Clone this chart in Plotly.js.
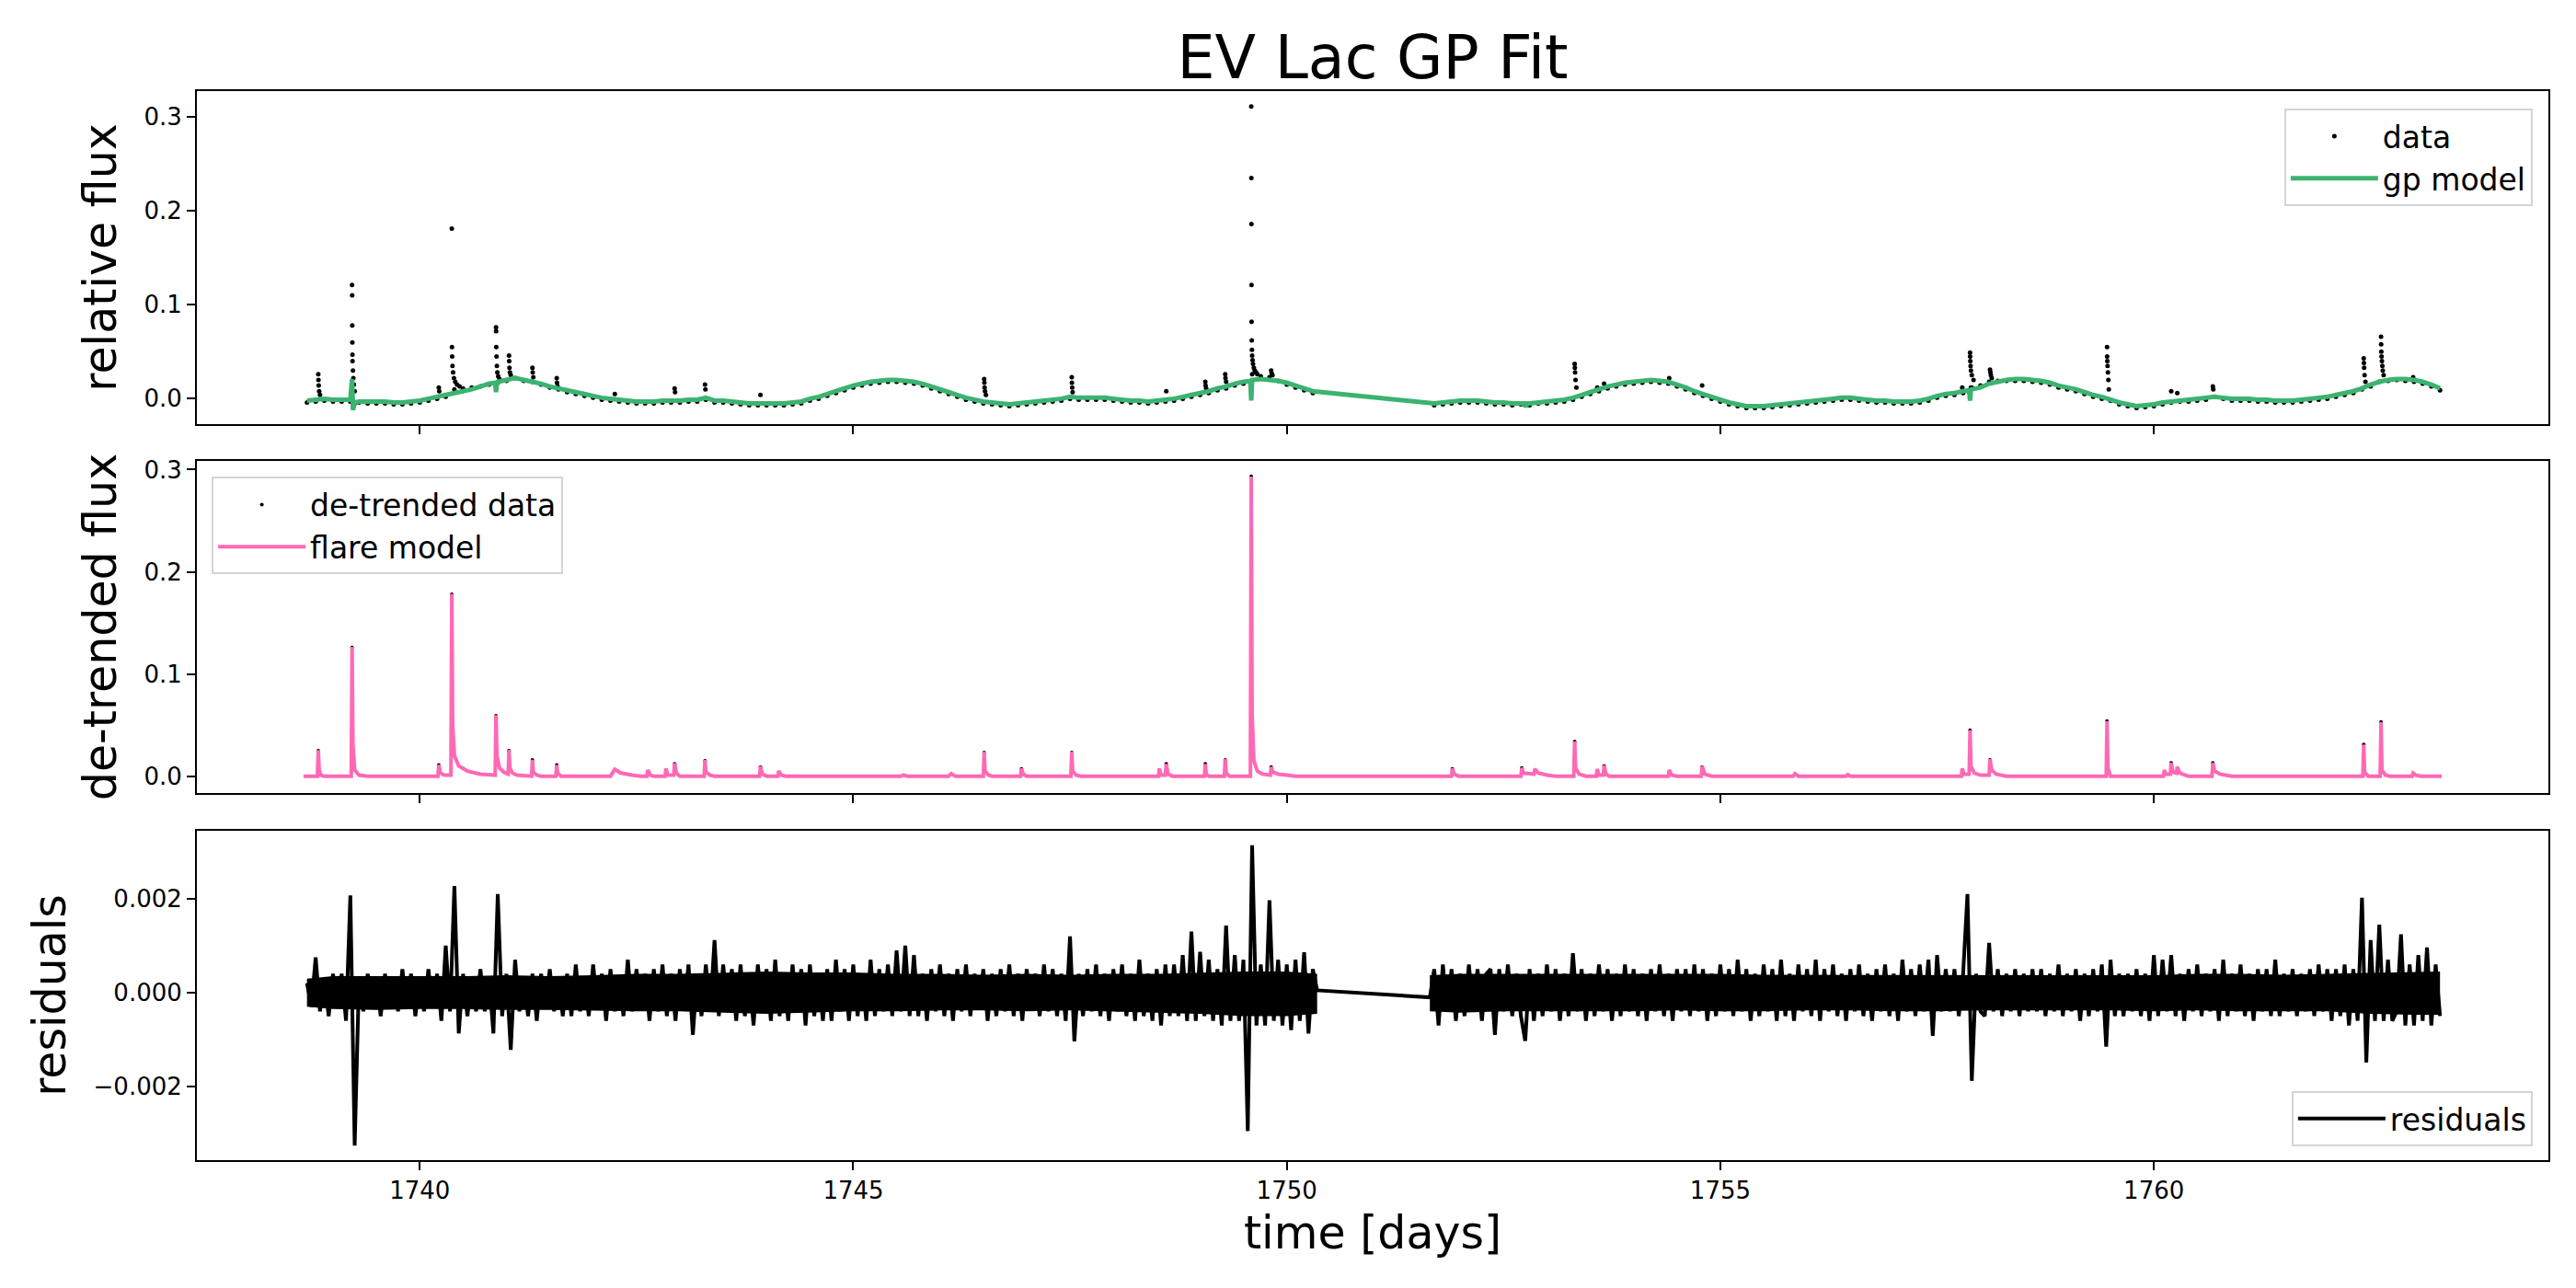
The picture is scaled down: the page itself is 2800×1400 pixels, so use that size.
<!DOCTYPE html>
<html>
<head>
<meta charset="utf-8">
<script src="https://cdn.plot.ly/plotly-3.0.1.min.js"></script>
<style>
  body { margin: 0; background: white; }
  #gpPlot { width: 2800px; height: 1400px; }
</style>
</head>
<body>
<div id="gpPlot"></div>
<script>
// time grid for the light curve and the gp model (days)
var tGrid = [
    1738.7, 1738.8, 1738.9, 1739.0, 1739.1, 1739.2, 1739.22, 1739.23, 1739.25, 1739.3, 1739.4, 1739.5, 1739.6,
    1739.7, 1739.8, 1739.9, 1740.0, 1740.1, 1740.2, 1740.3, 1740.4, 1740.5, 1740.6,
    1740.7, 1740.8, 1740.87, 1740.88, 1740.89, 1740.9, 1741.0, 1741.1, 1741.2, 1741.3, 1741.4, 1741.5, 1741.6,
    1741.7, 1741.8, 1741.9, 1742.0, 1742.1, 1742.2, 1742.3, 1742.4, 1742.5, 1742.6,
    1742.7, 1742.8, 1742.9, 1743.0, 1743.1, 1743.2, 1743.3, 1743.4, 1743.5, 1743.6,
    1743.7, 1743.8, 1743.9, 1744.0, 1744.1, 1744.2, 1744.3, 1744.4, 1744.5, 1744.6,
    1744.7, 1744.8, 1744.9, 1745.0, 1745.1, 1745.2, 1745.3, 1745.4, 1745.5, 1745.6,
    1745.7, 1745.8, 1745.9, 1746.0, 1746.1, 1746.2, 1746.3, 1746.4, 1746.5, 1746.6,
    1746.7, 1746.8, 1746.9, 1747.0, 1747.1, 1747.2, 1747.3, 1747.4, 1747.5, 1747.6,
    1747.7, 1747.8, 1747.9, 1748.0, 1748.1, 1748.2, 1748.3, 1748.4, 1748.5, 1748.6,
    1748.7, 1748.8, 1748.9, 1749.0, 1749.1, 1749.2, 1749.3, 1749.4, 1749.5, 1749.58, 1749.59, 1749.6,
    1749.7, 1749.8, 1749.9, 1750.0, 1750.1, 1750.2, 1750.3,
    1751.7, 1751.8, 1751.9, 1752.0, 1752.1, 1752.2, 1752.3, 1752.4, 1752.5, 1752.6,
    1752.7, 1752.75, 1752.76, 1752.77, 1752.8, 1752.9, 1753.0, 1753.1, 1753.2, 1753.3, 1753.4, 1753.5, 1753.6,
    1753.7, 1753.8, 1753.9, 1754.0, 1754.1, 1754.2, 1754.3, 1754.4, 1754.5, 1754.6,
    1754.7, 1754.8, 1754.9, 1755.0, 1755.1, 1755.2, 1755.3, 1755.4, 1755.5, 1755.6,
    1755.7, 1755.8, 1755.9, 1756.0, 1756.1, 1756.2, 1756.3, 1756.4, 1756.5, 1756.6,
    1756.7, 1756.8, 1756.9, 1757.0, 1757.1, 1757.2, 1757.3, 1757.4, 1757.5, 1757.6,
    1757.7, 1757.8, 1757.87, 1757.88, 1757.89, 1757.9, 1758.0, 1758.1, 1758.2, 1758.3, 1758.4, 1758.5, 1758.6,
    1758.7, 1758.8, 1758.9, 1759.0, 1759.1, 1759.2, 1759.3, 1759.4, 1759.5, 1759.6,
    1759.7, 1759.8, 1759.9, 1760.0, 1760.1, 1760.2, 1760.3, 1760.4, 1760.5, 1760.6,
    1760.7, 1760.8, 1760.9, 1761.0, 1761.1, 1761.2, 1761.3, 1761.4, 1761.5, 1761.6,
    1761.7, 1761.8, 1761.9, 1762.0, 1762.1, 1762.2, 1762.3, 1762.4, 1762.5, 1762.6,
    1762.7, 1762.8, 1762.9, 1763.0, 1763.1, 1763.2, 1763.3,
];

// gp model (relative flux)
var gpModel = [
    -0.002, -0.001, 0.000, -0.001, -0.001, -0.001, 0.021, -0.012, -0.004, -0.003, -0.003, -0.003, -0.003,
    -0.004, -0.004, -0.003, -0.002, 0.000, 0.002, 0.004, 0.006, 0.008, 0.010,
    0.013, 0.016, 0.017, 0.007, 0.017, 0.018, 0.020, 0.022, 0.020, 0.018, 0.016, 0.013, 0.011,
    0.009, 0.007, 0.005, 0.003, 0.001, 0.000, -0.001, -0.002, -0.003, -0.003,
    -0.003, -0.002, -0.002, -0.002, -0.001, -0.001, 0.001, -0.002, -0.002, -0.003,
    -0.004, -0.005, -0.005, -0.005, -0.005, -0.005, -0.004, -0.003, 0.000, 0.002,
    0.005, 0.008, 0.011, 0.014, 0.016, 0.018, 0.019, 0.020, 0.020, 0.019,
    0.018, 0.016, 0.013, 0.010, 0.007, 0.004, 0.001, -0.001, -0.003, -0.004,
    -0.005, -0.006, -0.005, -0.004, -0.003, -0.002, -0.001, 0.000, 0.002, 0.001,
    0.001, 0.001, 0.001, 0.000, -0.001, -0.002, -0.002, -0.003, -0.002, -0.001,
    0.000, 0.002, 0.004, 0.006, 0.008, 0.011, 0.013, 0.016, 0.018, 0.019, -0.002, 0.020,
    0.021, 0.020, 0.019, 0.017, 0.014, 0.011, 0.008,
    -0.005, -0.004, -0.003, -0.002, -0.002, -0.002, -0.003, -0.004, -0.004, -0.005,
    -0.005, -0.005, -0.009, -0.005, -0.005, -0.004, -0.003, -0.002, -0.001, 0.001, 0.004, 0.007, 0.010,
    0.013, 0.015, 0.017, 0.018, 0.019, 0.020, 0.019, 0.018, 0.015, 0.012,
    0.008, 0.005, 0.002, -0.001, -0.004, -0.006, -0.008, -0.008, -0.008, -0.007,
    -0.006, -0.005, -0.004, -0.003, -0.002, -0.001, 0.000, 0.001, 0.001, 0.000,
    -0.001, -0.002, -0.002, -0.003, -0.003, -0.003, -0.002, 0.000, 0.003, 0.005,
    0.006, 0.008, 0.009, -0.002, 0.009, 0.010, 0.012, 0.016, 0.018, 0.020, 0.021, 0.021, 0.020,
    0.019, 0.017, 0.014, 0.012, 0.010, 0.007, 0.004, 0.002, -0.001, -0.004,
    -0.006, -0.008, -0.007, -0.006, -0.004, -0.003, -0.002, -0.001, 0.000, 0.001,
    0.002, 0.001, 0.000, 0.000, 0.000, -0.001, -0.001, -0.002, -0.002, -0.002,
    -0.001, 0.000, 0.001, 0.002, 0.004, 0.006, 0.008, 0.011, 0.015, 0.018,
    0.020, 0.021, 0.021, 0.020, 0.018, 0.015, 0.011,
];

// observed flux on the same grid (sits just under the model)
var dataFlux = [
    -0.004, -0.003, -0.002, -0.003, -0.003, -0.003, -0.003, -0.005, -0.005, -0.004, -0.005, -0.005, -0.005,
    -0.006, -0.006, -0.005, -0.004, -0.002, 0.000, 0.002, 0.010, 0.011, 0.012,
    0.013, 0.015, 0.016, 0.016, 0.017, 0.017, 0.019, 0.022, 0.019, 0.018, 0.015, 0.012, 0.010,
    0.007, 0.005, 0.003, 0.001, -0.001, -0.002, -0.003, -0.004, -0.005, -0.005,
    -0.005, -0.004, -0.004, -0.004, -0.003, -0.003, -0.001, -0.004, -0.004, -0.005,
    -0.006, -0.007, -0.007, -0.007, -0.007, -0.007, -0.006, -0.005, -0.002, 0.000,
    0.003, 0.006, 0.009, 0.012, 0.014, 0.016, 0.017, 0.018, 0.018, 0.017,
    0.016, 0.014, 0.011, 0.008, 0.005, 0.002, -0.001, -0.003, -0.005, -0.006,
    -0.007, -0.008, -0.007, -0.006, -0.005, -0.004, -0.003, -0.002, 0.000, -0.001,
    -0.001, -0.001, -0.001, -0.002, -0.003, -0.004, -0.004, -0.005, -0.004, -0.003,
    -0.002, 0.000, 0.002, 0.004, 0.006, 0.009, 0.011, 0.014, 0.016, 0.017, 0.017, 0.026,
    0.024, 0.023, 0.019, 0.015, 0.012, 0.009, 0.006,
    -0.007, -0.006, -0.005, -0.004, -0.004, -0.004, -0.005, -0.006, -0.006, -0.007,
    -0.006, -0.007, -0.007, -0.007, -0.007, -0.005, -0.005, -0.004, -0.003, -0.001, 0.002, 0.005, 0.008,
    0.011, 0.013, 0.015, 0.016, 0.017, 0.018, 0.017, 0.016, 0.013, 0.010,
    0.006, 0.003, 0.000, -0.003, -0.006, -0.008, -0.010, -0.010, -0.010, -0.009,
    -0.008, -0.007, -0.006, -0.005, -0.004, -0.003, -0.002, -0.001, -0.001, -0.002,
    -0.003, -0.004, -0.004, -0.005, -0.005, -0.005, -0.004, -0.002, 0.001, 0.003,
    0.004, 0.006, 0.007, 0.007, 0.012, 0.012, 0.014, 0.018, 0.019, 0.019, 0.019, 0.019, 0.018,
    0.017, 0.015, 0.012, 0.010, 0.008, 0.005, 0.002, 0.000, -0.002, -0.006,
    -0.008, -0.010, -0.009, -0.008, -0.006, -0.004, -0.003, -0.003, -0.002, -0.001,
    0.002, 0.000, -0.002, -0.002, -0.002, -0.003, -0.003, -0.004, -0.004, -0.004,
    -0.003, -0.002, -0.001, 0.000, 0.002, 0.004, 0.006, 0.010, 0.013, 0.018,
    0.019, 0.020, 0.019, 0.018, 0.016, 0.013, 0.009,
];

// flare points in the observed flux
var flareDotT = [
    1738.83, 1738.832, 1738.835, 1738.84, 1738.85,
    1739.22, 1739.221, 1739.222, 1739.223, 1739.224, 1739.225, 1739.23, 1739.235, 1739.24, 1739.25,
    1740.22, 1740.225,
    1740.37, 1740.372, 1740.374, 1740.378, 1740.385, 1740.395, 1740.41, 1740.43, 1740.46,
    1740.88, 1740.881, 1740.883, 1740.886, 1740.89, 1740.895, 1740.905, 1740.92,
    1741.03, 1741.032, 1741.035, 1741.04, 1741.05,
    1741.30, 1741.303, 1741.31,
    1741.58, 1741.583, 1741.59,
    1742.25, 1742.94, 1742.945, 1743.29, 1743.295, 1743.93,
    1746.51, 1746.512, 1746.515, 1746.52, 1746.53,
    1747.52, 1747.522, 1747.525, 1747.53,
    1748.61, 1749.06, 1749.063, 1749.07, 1749.29, 1749.293, 1749.30,
    1749.59, 1749.591, 1749.592, 1749.593, 1749.594, 1749.596, 1749.598, 1749.60,
    1749.605, 1749.61, 1749.62, 1749.63, 1749.645, 1749.66,
    1749.82, 1749.825, 1749.835,
    1753.32, 1753.322, 1753.325, 1753.33, 1753.34,
    1753.58, 1753.66, 1754.41, 1754.79, 1757.79,
    1757.88, 1757.881, 1757.883, 1757.886, 1757.89, 1757.90, 1757.92,
    1758.11, 1758.115, 1758.12, 1758.13,
    1759.46, 1759.461, 1759.463, 1759.466, 1759.47, 1759.475, 1759.48,
    1760.20, 1760.27, 1760.68, 1760.685,
    1762.42, 1762.422, 1762.425, 1762.43, 1762.44,
    1762.62, 1762.621, 1762.623, 1762.626, 1762.63, 1762.635, 1762.64, 1762.65,
    1762.99,
];
var flareDotFlux = [
    0.026, 0.020, 0.014, 0.008, 0.004,
    0.121, 0.110, 0.078, 0.060, 0.047, 0.040, 0.030, 0.022, 0.015, 0.008,
    0.012, 0.008,
    0.181, 0.055, 0.045, 0.035, 0.028, 0.022, 0.018, 0.015, 0.013,
    0.076, 0.072, 0.055, 0.045, 0.035, 0.028, 0.024, 0.021,
    0.046, 0.040, 0.033, 0.028, 0.025,
    0.033, 0.028, 0.023,
    0.022, 0.017, 0.013,
    0.005, 0.011, 0.007, 0.015, 0.010, 0.004,
    0.021, 0.017, 0.012, 0.008, 0.004,
    0.023, 0.017, 0.012, 0.007,
    0.008, 0.018, 0.014, 0.011, 0.026, 0.022, 0.018,
    0.311, 0.235, 0.186, 0.121, 0.082, 0.062, 0.052, 0.046,
    0.041, 0.037, 0.033, 0.030, 0.028, 0.026,
    0.030, 0.027, 0.025,
    0.037, 0.033, 0.028, 0.020, 0.012,
    0.012, 0.016, 0.022, 0.014, 0.012,
    0.049, 0.045, 0.040, 0.035, 0.030, 0.025, 0.020,
    0.031, 0.028, 0.025, 0.022,
    0.055, 0.045, 0.040, 0.035, 0.028, 0.020, 0.010,
    0.008, 0.006, 0.013, 0.010,
    0.043, 0.038, 0.033, 0.025, 0.018,
    0.066, 0.058, 0.050, 0.045, 0.040, 0.035, 0.030, 0.025,
    0.023,
];

// de-trended data at the flare peaks
var detT = [
    1738.83, 1739.22, 1740.22, 1740.37, 1740.88, 1741.03, 1741.30, 1741.58, 1742.94, 1743.29,
    1743.93, 1746.51, 1746.94, 1747.52, 1748.61, 1749.06, 1749.29, 1749.59, 1749.82, 1751.91,
    1752.71, 1753.32, 1753.66, 1754.79, 1757.88, 1758.11, 1759.46, 1760.20, 1760.68, 1762.42,
    1762.62,
];
var detFlux = [
    0.025, 0.126, 0.011, 0.178, 0.059, 0.025, 0.016, 0.011, 0.012, 0.015,
    0.009, 0.023, 0.007, 0.023, 0.012, 0.012, 0.016, 0.2935, 0.009, 0.007,
    0.008, 0.034, 0.010, 0.009, 0.045, 0.016, 0.054, 0.013, 0.013, 0.031,
    0.053,
];

// flare model (de-trended flux)
var modelT = [
    1738.66, 1738.82, 1738.83, 1738.84, 1738.86, 1738.90,
    1739.21, 1739.22, 1739.23, 1739.25, 1739.30, 1739.40,
    1740.21, 1740.22, 1740.24, 1740.28,
    1740.36, 1740.37, 1740.38, 1740.40, 1740.45, 1740.55, 1740.70,
    1740.87, 1740.88, 1740.89, 1740.92, 1740.97, 1741.02,
    1741.03, 1741.04, 1741.07, 1741.12,
    1741.29, 1741.30, 1741.31, 1741.35, 1741.40,
    1741.57, 1741.58, 1741.59, 1741.63,
    1742.20, 1742.25, 1742.32, 1742.45, 1742.55,
    1742.62, 1742.63, 1742.66, 1742.70,
    1742.83, 1742.84, 1742.86, 1742.93, 1742.94, 1742.96, 1743.00,
    1743.28, 1743.29, 1743.30, 1743.35, 1743.40,
    1743.92, 1743.93, 1743.95, 1744.00,
    1744.13, 1744.14, 1744.17, 1744.22,
    1745.55, 1745.58, 1745.62,
    1746.10, 1746.13, 1746.18,
    1746.50, 1746.51, 1746.52, 1746.56, 1746.60,
    1746.93, 1746.94, 1746.96, 1747.00,
    1747.51, 1747.52, 1747.53, 1747.57, 1747.62,
    1748.52, 1748.53, 1748.55, 1748.60, 1748.61, 1748.63, 1748.68,
    1749.05, 1749.06, 1749.07, 1749.10,
    1749.28, 1749.29, 1749.30, 1749.34,
    1749.58, 1749.59, 1749.60, 1749.62, 1749.66, 1749.72, 1749.81,
    1749.82, 1749.84, 1749.90, 1750.00, 1750.10, 1750.35,
    1751.64, 1751.90, 1751.91, 1751.93, 1751.98,
    1752.70, 1752.71, 1752.73, 1752.85, 1752.86, 1752.90, 1753.00, 1753.10,
    1753.31, 1753.32, 1753.33, 1753.37, 1753.45,
    1753.57, 1753.58, 1753.60, 1753.65, 1753.66, 1753.68, 1753.72,
    1754.40, 1754.41, 1754.44, 1754.50,
    1754.78, 1754.79, 1754.82, 1754.90,
    1755.84, 1755.86, 1755.90,
    1756.45, 1756.47, 1756.50,
    1757.78, 1757.79, 1757.81, 1757.87, 1757.88, 1757.89, 1757.93, 1758.00,
    1758.10, 1758.11, 1758.13, 1758.18, 1758.30,
    1759.45, 1759.46, 1759.47, 1759.50,
    1760.11, 1760.12, 1760.14, 1760.19, 1760.20, 1760.22, 1760.26, 1760.27, 1760.30, 1760.40,
    1760.67, 1760.68, 1760.70, 1760.76, 1760.90,
    1762.41, 1762.42, 1762.43, 1762.47,
    1762.61, 1762.62, 1762.63, 1762.67, 1762.72,
    1762.98, 1762.99, 1763.02, 1763.08, 1763.32,
];
var modelFlux = [
    0, 0, 0.0256, 0.006, 0.001, 0,
    0, 0.1266, 0.03, 0.006, 0.001, 0,
    0, 0.011, 0.003, 0.001,
    0.001, 0.1785, 0.05, 0.02, 0.01, 0.005, 0.002,
    0.001, 0.0597, 0.02, 0.008, 0.004, 0.002,
    0.0256, 0.008, 0.003, 0.001,
    0, 0.016, 0.004, 0.001, 0,
    0, 0.011, 0.003, 0,
    0, 0.0066, 0.003, 0.001, 0,
    0, 0.006, 0.001, 0,
    0, 0.0075, 0.001, 0.001, 0.0127, 0.003, 0,
    0, 0.0157, 0.004, 0.001, 0,
    0, 0.0096, 0.002, 0,
    0, 0.005, 0.001, 0,
    0, 0.0012, 0,
    0, 0.0024, 0,
    0, 0.024, 0.005, 0.001, 0,
    0, 0.0075, 0.002, 0,
    0, 0.024, 0.005, 0.001, 0,
    0, 0.0075, 0.001, 0.001, 0.012, 0.002, 0,
    0, 0.012, 0.002, 0,
    0, 0.0166, 0.003, 0,
    0, 0.2933, 0.06, 0.015, 0.005, 0.002, 0.001,
    0.009, 0.004, 0.002, 0.001, 0, 0,
    0, 0, 0.0075, 0.002, 0,
    0, 0.008, 0.003, 0.002, 0.007, 0.003, 0.001, 0,
    0, 0.034, 0.008, 0.002, 0,
    0, 0.007, 0.001, 0.001, 0.0105, 0.002, 0,
    0, 0.006, 0.001, 0,
    0, 0.0096, 0.002, 0,
    0, 0.0024, 0,
    0, 0.0015, 0,
    0, 0.0075, 0.002, 0.002, 0.045, 0.01, 0.003, 0.001,
    0.001, 0.0166, 0.006, 0.002, 0,
    0, 0.054, 0.008, 0,
    0, 0.006, 0.002, 0.002, 0.013, 0.004, 0.003, 0.009, 0.003, 0,
    0, 0.013, 0.005, 0.002, 0,
    0, 0.031, 0.004, 0,
    0, 0.0528, 0.006, 0.001, 0,
    0, 0.003, 0.001, 0, 0,
];

// residual time grid and residuals
var tRes = [
    1738.70, 1738.75, 1738.80, 1738.85, 1738.90, 1738.95, 1739.00, 1739.05, 1739.10, 1739.15, 1739.20, 1739.25, 1739.30, 1739.35, 1739.40, 1739.45, 1739.50, 1739.55, 1739.60, 1739.65,
    1739.70, 1739.75, 1739.80, 1739.85, 1739.90, 1739.95, 1740.00, 1740.05, 1740.10, 1740.15, 1740.20, 1740.25, 1740.30, 1740.35, 1740.40, 1740.45, 1740.50, 1740.55, 1740.60, 1740.65,
    1740.70, 1740.75, 1740.80, 1740.85, 1740.90, 1740.95, 1741.00, 1741.05, 1741.10, 1741.15, 1741.20, 1741.25, 1741.30, 1741.35, 1741.40, 1741.45, 1741.50, 1741.55, 1741.60, 1741.65,
    1741.70, 1741.75, 1741.80, 1741.85, 1741.90, 1741.95, 1742.00, 1742.05, 1742.10, 1742.15, 1742.20, 1742.25, 1742.30, 1742.35, 1742.40, 1742.45, 1742.50, 1742.55, 1742.60, 1742.65,
    1742.70, 1742.75, 1742.80, 1742.85, 1742.90, 1742.95, 1743.00, 1743.05, 1743.10, 1743.15, 1743.20, 1743.25, 1743.30, 1743.35, 1743.40, 1743.45, 1743.50, 1743.55, 1743.60, 1743.65,
    1743.70, 1743.75, 1743.80, 1743.85, 1743.90, 1743.95, 1744.00, 1744.05, 1744.10, 1744.15, 1744.20, 1744.25, 1744.30, 1744.35, 1744.40, 1744.45, 1744.50, 1744.55, 1744.60, 1744.65,
    1744.70, 1744.75, 1744.80, 1744.85, 1744.90, 1744.95, 1745.00, 1745.05, 1745.10, 1745.15, 1745.20, 1745.25, 1745.30, 1745.35, 1745.40, 1745.45, 1745.50, 1745.55, 1745.60, 1745.65,
    1745.70, 1745.75, 1745.80, 1745.85, 1745.90, 1745.95, 1746.00, 1746.05, 1746.10, 1746.15, 1746.20, 1746.25, 1746.30, 1746.35, 1746.40, 1746.45, 1746.50, 1746.55, 1746.60, 1746.65,
    1746.70, 1746.75, 1746.80, 1746.85, 1746.90, 1746.95, 1747.00, 1747.05, 1747.10, 1747.15, 1747.20, 1747.25, 1747.30, 1747.35, 1747.40, 1747.45, 1747.50, 1747.55, 1747.60, 1747.65,
    1747.70, 1747.75, 1747.80, 1747.85, 1747.90, 1747.95, 1748.00, 1748.05, 1748.10, 1748.15, 1748.20, 1748.25, 1748.30, 1748.35, 1748.40, 1748.45, 1748.50, 1748.55, 1748.60, 1748.65,
    1748.70, 1748.75, 1748.80, 1748.85, 1748.90, 1748.95, 1749.00, 1749.05, 1749.10, 1749.15, 1749.20, 1749.25, 1749.30, 1749.35, 1749.40, 1749.45, 1749.50, 1749.55, 1749.60, 1749.65,
    1749.70, 1749.75, 1749.80, 1749.85, 1749.90, 1749.95, 1750.00, 1750.05, 1750.10, 1750.15, 1750.20, 1750.25, 1750.30, 1750.35,
    1751.65, 1751.70, 1751.75, 1751.80, 1751.85, 1751.90, 1751.95, 1752.00, 1752.05, 1752.10, 1752.15, 1752.20, 1752.25, 1752.30, 1752.35, 1752.40, 1752.45, 1752.50, 1752.55, 1752.60,
    1752.65, 1752.70, 1752.75, 1752.80, 1752.85, 1752.90, 1752.95, 1753.00, 1753.05, 1753.10, 1753.15, 1753.20, 1753.25, 1753.30, 1753.35, 1753.40, 1753.45, 1753.50, 1753.55, 1753.60,
    1753.65, 1753.70, 1753.75, 1753.80, 1753.85, 1753.90, 1753.95, 1754.00, 1754.05, 1754.10, 1754.15, 1754.20, 1754.25, 1754.30, 1754.35, 1754.40, 1754.45, 1754.50, 1754.55, 1754.60,
    1754.65, 1754.70, 1754.75, 1754.80, 1754.85, 1754.90, 1754.95, 1755.00, 1755.05, 1755.10, 1755.15, 1755.20, 1755.25, 1755.30, 1755.35, 1755.40, 1755.45, 1755.50, 1755.55, 1755.60,
    1755.65, 1755.70, 1755.75, 1755.80, 1755.85, 1755.90, 1755.95, 1756.00, 1756.05, 1756.10, 1756.15, 1756.20, 1756.25, 1756.30, 1756.35, 1756.40, 1756.45, 1756.50, 1756.55, 1756.60,
    1756.65, 1756.70, 1756.75, 1756.80, 1756.85, 1756.90, 1756.95, 1757.00, 1757.05, 1757.10, 1757.15, 1757.20, 1757.25, 1757.30, 1757.35, 1757.40, 1757.45, 1757.50, 1757.55, 1757.60,
    1757.65, 1757.70, 1757.75, 1757.80, 1757.85, 1757.90, 1757.95, 1758.00, 1758.05, 1758.10, 1758.15, 1758.20, 1758.25, 1758.30, 1758.35, 1758.40, 1758.45, 1758.50, 1758.55, 1758.60,
    1758.65, 1758.70, 1758.75, 1758.80, 1758.85, 1758.90, 1758.95, 1759.00, 1759.05, 1759.10, 1759.15, 1759.20, 1759.25, 1759.30, 1759.35, 1759.40, 1759.45, 1759.50, 1759.55, 1759.60,
    1759.65, 1759.70, 1759.75, 1759.80, 1759.85, 1759.90, 1759.95, 1760.00, 1760.05, 1760.10, 1760.15, 1760.20, 1760.25, 1760.30, 1760.35, 1760.40, 1760.45, 1760.50, 1760.55, 1760.60,
    1760.65, 1760.70, 1760.75, 1760.80, 1760.85, 1760.90, 1760.95, 1761.00, 1761.05, 1761.10, 1761.15, 1761.20, 1761.25, 1761.30, 1761.35, 1761.40, 1761.45, 1761.50, 1761.55, 1761.60,
    1761.65, 1761.70, 1761.75, 1761.80, 1761.85, 1761.90, 1761.95, 1762.00, 1762.05, 1762.10, 1762.15, 1762.20, 1762.25, 1762.30, 1762.35, 1762.40, 1762.45, 1762.50, 1762.55, 1762.60,
    1762.65, 1762.70, 1762.75, 1762.80, 1762.85, 1762.90, 1762.95, 1763.00, 1763.05, 1763.10, 1763.15, 1763.20, 1763.25, 1763.30,
];
var residuals = [
    2e-4, -3e-4, 7.5e-4, -4e-4, 3e-4, -5e-4, 4e-4, -3e-4, 4e-4, -6e-4, 2.07e-3, -3.26e-3, 3e-4, -4e-4, 4e-4, -3e-4, 3e-4, -5e-4, 4e-4, -3e-4,
    3e-4, -4e-4, 5e-4, -3e-4, 4e-4, -5e-4, 3e-4, -4e-4, 5e-4, -3e-4, 4e-4, -6e-4, 1e-3, -4e-4, 2.27e-3, -8.7e-4, 4e-4, -5e-4, 3e-4, -4e-4,
    5e-4, -4e-4, 3e-4, -8.7e-4, 2.1e-3, -5e-4, 4e-4, -1.22e-3, 7e-4, -4e-4, 3e-4, -5e-4, 4e-4, -6e-4, 4e-4, -3e-4, 5e-4, -4e-4, 3e-4, -5e-4,
    4e-4, -5e-4, 6e-4, -4e-4, 3e-4, -5e-4, 6e-4, -3e-4, 4e-4, -6e-4, 5e-4, -4e-4, 3e-4, -5e-4, 7e-4, -4e-4, 5e-4, -3e-4, 4e-4, -6e-4,
    5e-4, -4e-4, 6e-4, -5e-4, 4e-4, -6e-4, 5e-4, -3e-4, 6e-4, -9e-4, 4e-4, -5e-4, 6e-4, -4e-4, 1.12e-3, -5e-4, 6e-4, -4e-4, 5e-4, -6e-4,
    6e-4, -5e-4, 4e-4, -7e-4, 6e-4, -4e-4, 5e-4, -6e-4, 7e-4, -5e-4, 4e-4, -6e-4, 6e-4, -4e-4, 5e-4, -7e-4, 6e-4, -5e-4, 4e-4, -6e-4,
    5e-4, -6e-4, 7e-4, -4e-4, 5e-4, -6e-4, 6e-4, -5e-4, 4e-4, -6e-4, 7e-4, -5e-4, 5e-4, -4e-4, 6e-4, -5e-4, 9e-4, -4e-4, 1e-3, -5e-4,
    8e-4, -5e-4, 4e-4, -6e-4, 5e-4, -4e-4, 6e-4, -5e-4, 4e-4, -6e-4, 5e-4, -4e-4, 6e-4, -5e-4, 4e-4, -3e-4, 5e-4, -6e-4, 4e-4, -5e-4,
    5e-4, -4e-4, 6e-4, -5e-4, 4e-4, -6e-4, 5e-4, -3e-4, 4e-4, -5e-4, 6e-4, -4e-4, 5e-4, -5e-4, 4e-4, -6e-4, 1.2e-3, -1.04e-3, 4e-4, -5e-4,
    5e-4, -4e-4, 6e-4, -5e-4, 4e-4, -6e-4, 5e-4, -4e-4, 6e-4, -5e-4, 4e-4, -6e-4, 7e-4, -5e-4, 4e-4, -6e-4, 5e-4, -7e-4, 6e-4, -5e-4,
    6e-4, -5e-4, 8e-4, -6e-4, 1.3e-3, -6e-4, 8.7e-4, -5e-4, 7e-4, -6e-4, 5e-4, -7e-4, 1.43e-3, -6e-4, 8e-4, -6e-4, 7e-4, -2.95e-3, 3.14e-3, -7e-4,
    6e-4, -7e-4, 1.97e-3, -6e-4, 7e-4, -7e-4, 6e-4, -8e-4, 7e-4, -6e-4, 8.6e-4, -8.7e-4, 5e-4, 5e-5,
    -1e-4, 5e-4, -7e-4, 6e-4, -4e-4, 5e-4, -6e-4, 4e-4, -5e-4, 6e-4, -4e-4, 5e-4, -6e-4, 4e-4, 5e-4, -9e-4, 5e-4, -4e-4, 6e-4, -5e-4,
    4e-4, -5e-4, -1.03e-3, 5e-4, -6e-4, 4e-4, -5e-4, 6e-4, -4e-4, 5e-4, -6e-4, 4e-4, -5e-4, 8.4e-4, -4e-4, 5e-4, -6e-4, 4e-4, -5e-4, 6e-4,
    -4e-4, 5e-4, -6e-4, 4e-4, -5e-4, 6e-4, -4e-4, 5e-4, -5e-4, 4e-4, -6e-4, 5e-4, -4e-4, 6e-4, -5e-4, 4e-4, -6e-4, 5e-4, -4e-4, 5e-4,
    -5e-4, 6e-4, -4e-4, 5e-4, -6e-4, 4e-4, -5e-4, 6e-4, -4e-4, 5e-4, -5e-4, 7e-4, -4e-4, 5e-4, -6e-4, 4e-4, -5e-4, 6e-4, -4e-4, 5e-4,
    -6e-4, 7e-4, -5e-4, 4e-4, -6e-4, 6e-4, -4e-4, 5e-4, -5e-4, 7e-4, -6e-4, 5e-4, -4e-4, 6e-4, -5e-4, 4e-4, -6e-4, 5e-4, -4e-4, 6e-4,
    -5e-4, 4e-4, -6e-4, 5e-4, -4e-4, 6e-4, -5e-4, 4e-4, -6e-4, 7e-4, -4e-4, 5e-4, -5e-4, 6e-4, -4e-4, 7e-4, -9.2e-4, 8e-4, -4e-4, 5e-4,
    -4e-4, 5e-4, -5e-4, 4e-4, 2.1e-3, -1.88e-3, 4e-4, -4e-4, -5e-4, 1.06e-3, -4e-4, 5e-4, -5e-4, 4e-4, -4e-4, 5e-4, -5e-4, 4e-4, -4e-4, 5e-4,
    -4e-4, 5e-4, -5e-4, 4e-4, -4e-4, 6e-4, -5e-4, 4e-4, -4e-4, 5e-4, -6e-4, 4e-4, -5e-4, 5e-4, -4e-4, 6e-4, -1.15e-3, 7e-4, -5e-4, 4e-4,
    -5e-4, 4e-4, -4e-4, 5e-4, -5e-4, 4e-4, -6e-4, 8e-4, -5e-4, 7e-4, -4e-4, 8e-4, -5e-4, 4e-4, -6e-4, 5e-4, -4e-4, 6e-4, -5e-4, 4e-4,
    -4e-4, 5e-4, -6e-4, 7e-4, -5e-4, 4e-4, -4e-4, 6e-4, -5e-4, 4e-4, -6e-4, 5e-4, -4e-4, 5e-4, -5e-4, 7e-4, -5e-4, 4e-4, -4e-4, 5e-4,
    -5e-4, 4e-4, -4e-4, 5e-4, -5e-4, 6e-4, -4e-4, 5e-4, -6e-4, 5e-4, -5e-4, 6e-4, -7e-4, 5e-4, -6e-4, 2.02e-3, -1.49e-3, 1.12e-3, -6e-4, 1.45e-3,
    -6e-4, 7e-4, -6e-4, -4e-4, 1.24e-3, -7e-4, 6e-4, -7e-4, 8e-4, -6e-4, 9.6e-4, -7e-4, 6e-4, -5e-4,
];

// solid core of the residual noise band, read per segment (upper / lower edge)
var bandT1 = [1738.70, 1739.0, 1739.5, 1740.0, 1740.5, 1741.0, 1741.5, 1742.0, 1742.5, 1743.0, 1743.5, 1744.0, 1744.5,
    1745.0, 1745.5, 1746.0, 1746.5, 1747.0, 1747.5, 1748.0, 1748.5, 1749.0, 1749.5, 1750.0, 1750.35];
var bandUp1 = [3e-4, 3.5e-4, 3.5e-4, 3.5e-4, 3.5e-4, 3.7e-4, 3.5e-4, 3.7e-4, 4e-4, 4e-4, 4.3e-4, 4.5e-4, 4.3e-4,
    4.3e-4, 4e-4, 4e-4, 3.8e-4, 4e-4, 3.8e-4, 4e-4, 4e-4, 4.3e-4, 4.5e-4, 4.5e-4, 4e-4];
var bandLo1 = [-3e-4, -3.5e-4, -3.7e-4, -3.5e-4, -3.5e-4, -3.7e-4, -3.7e-4, -3.8e-4, -4e-4, -4e-4, -4.3e-4, -4.5e-4, -4.3e-4,
    -4e-4, -4e-4, -3.8e-4, -3.8e-4, -4e-4, -3.8e-4, -4e-4, -4.3e-4, -4.5e-4, -5e-4, -5e-4, -4.5e-4];
var bandT2 = [1751.65, 1752.0, 1752.5, 1753.0, 1753.5, 1754.0, 1754.5, 1755.0, 1755.5, 1756.0, 1756.5, 1757.0, 1757.5,
    1758.0, 1758.5, 1759.0, 1759.5, 1760.0, 1760.5, 1761.0, 1761.5, 1762.0, 1762.5, 1763.0, 1763.30];
var bandUp2 = [3.7e-4, 4e-4, 4e-4, 4e-4, 4e-4, 4e-4, 4e-4, 4e-4, 3.8e-4, 3.8e-4, 3.8e-4, 3.7e-4, 3.7e-4,
    3.8e-4, 3.8e-4, 3.7e-4, 3.8e-4, 3.7e-4, 4e-4, 4e-4, 3.8e-4, 4e-4, 4.3e-4, 4.5e-4, 4.5e-4];
var bandLo2 = [-4e-4, -4.3e-4, -4e-4, -4e-4, -4e-4, -4e-4, -3.8e-4, -4e-4, -4e-4, -3.8e-4, -3.8e-4, -4e-4, -4e-4,
    -3.8e-4, -3.8e-4, -3.8e-4, -3.8e-4, -4e-4, -3.8e-4, -4e-4, -4e-4, -4e-4, -4.5e-4, -4.7e-4, -4.7e-4];

var xTicks = [1740, 1745, 1750, 1755, 1760];

var green = "#3cb371";
var pink = "#ff69b4";

// closed outline of a band: upper edge forwards, lower edge backwards
function bandTrace(t, up, lo) {
    return {
        x: t.concat(t.slice().reverse()),
        y: up.concat(lo.slice().reverse()),
        mode: "lines", type: "scatter", fill: "toself", fillcolor: "black",
        line: { width: 0 }, showlegend: false, hoverinfo: "skip",
        xaxis: "x3", yaxis: "y3", legend: "legend3",
    };
}

var traces = [
    {
        x: tGrid.concat(flareDotT), y: dataFlux.concat(flareDotFlux),
        mode: "markers", type: "scatter", name: "data",
        marker: { color: "black", size: 5 },
        xaxis: "x", yaxis: "y", legend: "legend",
    },
    {
        x: tGrid, y: gpModel,
        mode: "lines", type: "scatter", name: "gp model",
        line: { color: green, width: 5, simplify: false },
        xaxis: "x", yaxis: "y", legend: "legend",
    },
    {
        x: detT, y: detFlux,
        mode: "markers", type: "scatter", name: "de-trended data",
        marker: { color: "black", size: 4 },
        xaxis: "x2", yaxis: "y2", legend: "legend2",
    },
    {
        x: modelT, y: modelFlux,
        mode: "lines", type: "scatter", name: "flare model",
        line: { color: pink, width: 4, simplify: false },
        xaxis: "x2", yaxis: "y2", legend: "legend2",
    },
    bandTrace(bandT1, bandUp1, bandLo1),
    bandTrace(bandT2, bandUp2, bandLo2),
    {
        x: tRes, y: residuals,
        mode: "lines", type: "scatter", name: "residuals",
        line: { color: "black", width: 4, simplify: false },
        xaxis: "x3", yaxis: "y3", legend: "legend3",
    },
];

function xAxis(anchor, labels) {
    return {
        anchor: anchor, range: [1737.43, 1764.55],
        tickvals: xTicks, showticklabels: labels,
        ticks: "outside", ticklen: 9, tickwidth: 2, tickcolor: "black",
        showline: true, mirror: true, linecolor: "black", linewidth: 2,
        showgrid: false, zeroline: false,
        tickfont: { size: 26 },
    };
}
function yAxis(domain, range, dtick, fmt, title) {
    return {
        domain: domain, range: range, dtick: dtick, tick0: 0, tickformat: fmt,
        ticks: "outside", ticklen: 9, tickwidth: 2, tickcolor: "black",
        showline: true, mirror: true, linecolor: "black", linewidth: 2,
        showgrid: false, zeroline: false,
        tickfont: { size: 26 },
        title: { text: title, font: { size: 49 }, standoff: 14 },
    };
}
function legendBox(x, xanchor, y, yanchor) {
    return {
        x: x, xanchor: xanchor, y: y, yanchor: yanchor,
        bgcolor: "rgba(255,255,255,0.8)", bordercolor: "#d4d4d4", borderwidth: 2,
        font: { size: 33 }, itemwidth: 95,
    };
}

var layout = {
    width: 2800, height: 1400,
    margin: { l: 214, r: 30, t: 99, b: 139 },
    paper_bgcolor: "white", plot_bgcolor: "white",
    font: { family: "DejaVu Sans", color: "black", size: 26 },
    title: {
        text: "EV Lac GP Fit", font: { size: 65 },
        x: 0.5, xref: "paper", y: 1 - 62 / 1400, yref: "container", yanchor: "middle",
    },
    showlegend: true,
    xaxis: xAxis("y", false),
    xaxis2: xAxis("y2", false),
    xaxis3: Object.assign(xAxis("y3", true), {
        title: { text: "time [days]", font: { size: 49 }, standoff: 14 },
    }),
    yaxis: yAxis([0.6885, 1], [-0.027, 0.3275], 0.1, ".1f", "relative flux"),
    yaxis2: yAxis([0.3434, 0.654], [-0.0165, 0.3085], 0.1, ".1f", "de-trended flux"),
    yaxis3: yAxis([0, 0.3081], [-0.00357, 0.00345], 0.002, ".3f", "residuals"),
    legend: legendBox(0.9933, "right", 0.9837, "top"),
    legend2: legendBox(0.0063, "left", 0.639, "top"),
    legend3: legendBox(0.9933, "right", 0.013, "bottom"),
};

Plotly.newPlot("gpPlot", traces, layout, {
    displayModeBar: false,
    staticPlot: true,
});
</script>
</body>
</html>
